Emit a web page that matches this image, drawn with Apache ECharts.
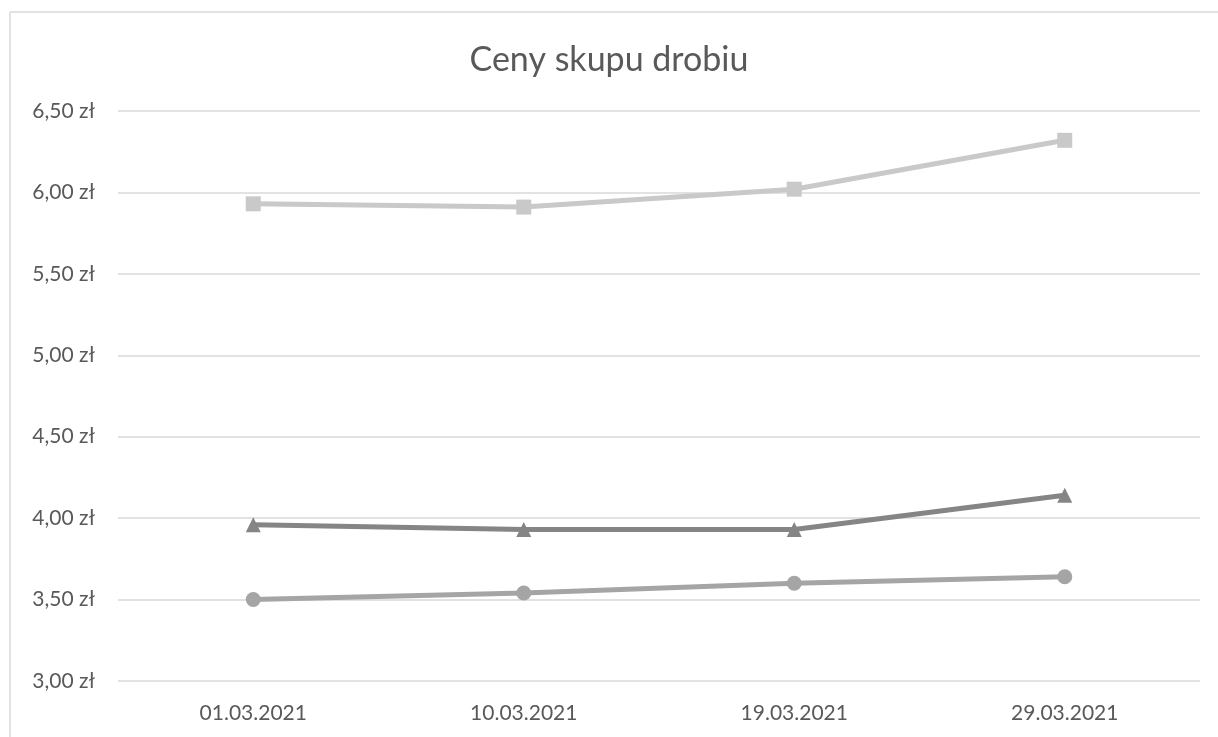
<!DOCTYPE html>
<html>
<head>
<meta charset="utf-8">
<script src="https://cdn.jsdelivr.net/npm/echarts@6/dist/echarts.min.js"></script>
<style>
html,body{margin:0;padding:0;background:#fff;}
#c{width:1218px;height:737px;}
</style>
</head>
<body>
<div id="c"></div>
<script>
const categories = ['01.03.2021', '10.03.2021', '19.03.2021', '29.03.2021'];
const seriesSquare = [5.93, 5.91, 6.02, 6.32];
const seriesTriangle = [3.96, 3.93, 3.93, 4.14];
const seriesCircle = [3.50, 3.54, 3.60, 3.64];
const yTicks = { min: 3.0, max: 6.5, interval: 0.5 };

const FONT = 'Lato, "Open Sans", sans-serif';
const chart = echarts.init(document.getElementById('c'), null, { renderer: 'canvas' });

function mk(name, data, color, symbol, size) {
  return {
    name, type: 'line', data,
    symbol, symbolSize: size,
    lineStyle: { color, width: 5, cap: 'round', join: 'round' },
    itemStyle: { color },
    emphasis: { disabled: true },
    animation: false
  };
}

chart.setOption({
  animation: false,
  title: {
    text: 'Ceny skupu drobiu',
    left: 'center', top: 38,
    textStyle: { fontFamily: FONT, fontSize: 34, fontWeight: 'normal', color: '#595959' }
  },
  grid: { left: 118, right: 18, top: 111, bottom: 56, containLabel: false },
  xAxis: {
    type: 'category', data: categories, boundaryGap: true,
    axisLine: { show: false }, axisTick: { show: false },
    axisLabel: { fontFamily: FONT, fontSize: 21, color: '#595959', margin: 22 }
  },
  yAxis: {
    type: 'value', min: yTicks.min, max: yTicks.max, interval: yTicks.interval,
    axisLine: { show: false }, axisTick: { show: false },
    splitLine: { lineStyle: { color: '#d9d9d9', width: 1.5 } },
    axisLabel: {
      fontFamily: FONT, fontSize: 21, color: '#595959', margin: 23,
      formatter: v => v.toFixed(2).replace('.', ',') + ' zł'
    }
  },
  graphic: [
    { type: 'line', shape: { x1: 10, y1: 12, x2: 10, y2: 737 }, style: { stroke: '#d9d9d9', lineWidth: 1.5 } },
    { type: 'line', shape: { x1: 10, y1: 12, x2: 1218, y2: 12 }, style: { stroke: '#d9d9d9', lineWidth: 1.5 } }
  ],
  series: [
    mk('Square', seriesSquare, '#c9c9c9', 'rect', 15),
    mk('Triangle', seriesTriangle, '#858585', 'triangle', 15),
    mk('Circle', seriesCircle, '#a5a5a5', 'circle', 15)
  ]
});
</script>
</body>
</html>
